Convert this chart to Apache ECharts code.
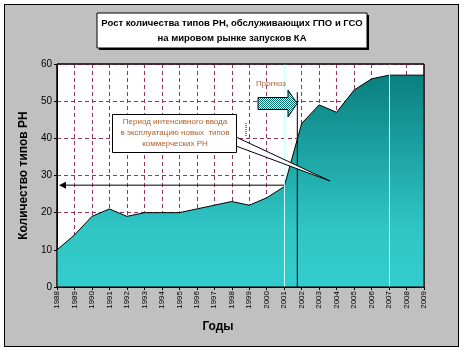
<!DOCTYPE html>
<html>
<head>
<meta charset="utf-8">
<script src="https://cdn.jsdelivr.net/npm/echarts@6/dist/echarts.min.js"></script>
<style>
  html, body { margin: 0; padding: 0; background: #fff; }
  #wrap { position: relative; width: 464px; height: 352px; }
  #frame { position: absolute; left: 4px; top: 4px; width: 453px; height: 341px; background: #c0c0c0; border: 1px solid #000; }
  #chart { position: absolute; left: 0; top: 0; width: 464px; height: 352px; }
</style>
</head>
<body>
<div id="wrap"><div id="frame"></div><div id="chart"></div></div>
<script>
const years = ['1988', '1989', '1990', '1991', '1992', '1993', '1994', '1995', '1996', '1997', '1998',
  '1999', '2000', '2001', '2002', '2003', '2004', '2005', '2006', '2007', '2008', '2009']
const rnTypes = [10, 14, 19, 21, 19, 20, 20, 20, 21, 22, 23, 22, 24, 27, 44, 49, 47, 53, 56, 57, 57, 57]
const periodMarks = ['2001', '2007']
const font = 'Arial, "Liberation Sans", sans-serif'

const el = document.getElementById('chart')
const chart = echarts.init(el)

// checkered fill for the "forecast" arrow
const pat = document.createElement('canvas')
pat.width = 2; pat.height = 2
const pc = pat.getContext('2d')
pc.fillStyle = '#fff'; pc.fillRect(0, 0, 2, 2)
pc.fillStyle = '#007373'; pc.fillRect(0, 0, 1, 1); pc.fillRect(1, 1, 1, 1)

chart.setOption({
  backgroundColor: 'transparent',
  animation: false,
  grid: { left: 57, right: 40, top: 64, bottom: 65, show: true, backgroundColor: '#fff', borderColor: '#000', borderWidth: 1 },
  xAxis: {
    type: 'category', data: years, boundaryGap: false,
    axisLine: { lineStyle: { color: '#000' } },
    axisTick: { show: true, length: 3, interval: 0, lineStyle: { color: '#000' } },
    axisLabel: { rotate: 90, interval: 0, fontSize: 8, color: '#000', fontFamily: font, margin: 4 },
    splitLine: { show: true, interval: 0, lineStyle: { color: '#993366', type: [4, 3], width: 1 } }
  },
  yAxis: {
    type: 'value', min: 0, max: 60, interval: 10,
    axisLine: { show: true, lineStyle: { color: '#000' } },
    axisTick: { show: true, length: 3, lineStyle: { color: '#000' } },
    axisLabel: { fontSize: 10, color: '#000', fontFamily: font, margin: 5 },
    splitLine: { show: true, lineStyle: { color: '#993366', type: [4, 3], width: 1 } },
    name: 'Количество типов РН', nameLocation: 'middle', nameGap: 23,
    nameTextStyle: { fontSize: 12, fontWeight: 'bold', color: '#000', fontFamily: font }
  },
  series: [{
    type: 'line', data: rnTypes, symbol: 'none',
    lineStyle: { color: '#000', width: 1 },
    areaStyle: {
      opacity: 1,
      color: new echarts.graphic.LinearGradient(0, 0, 0, 1, [
        { offset: 0, color: '#0a7f7f' }, { offset: 0.72, color: '#30c5c5' }, { offset: 1, color: '#33cccc' }
      ])
    },
    markLine: {
      silent: true, symbol: 'none', label: { show: false },
      lineStyle: { color: '#ccffff', type: 'solid', width: 1 },
      data: periodMarks.map(y => ({ xAxis: y }))
    }
  }]
})

const px = (i, v) => chart.convertToPixel({ gridIndex: 0 }, [i, v])
const x2001 = px(13, 0)[0], x2002 = px(14, 0)[0]
const xBlack = x2001 + (x2002 - x2001) * 0.75
const yTop = px(0, 52.4)[1], yBase = px(0, 0)[1]
const yArrow = px(0, 27.4)[1], xAxisLeft = px(0, 0)[0]
const xRight = px(years.length - 1, 0)[0], yMax = px(0, 60)[1]

chart.setOption({
  graphic: [
    // plot border on top of the split lines
    { type: 'rect', z: 60, silent: true, shape: { x: xAxisLeft, y: yMax, width: xRight - xAxisLeft, height: yBase - yMax }, style: { fill: null, stroke: '#000', lineWidth: 1 } },
    // title box with shadow
    { type: 'rect', shape: { x: 99, y: 15, width: 270, height: 35 }, style: { fill: '#000' } },
    { type: 'rect', shape: { x: 97, y: 13, width: 270, height: 35 }, style: { fill: '#fff', stroke: '#000', lineWidth: 1 } },
    { type: 'text', x: 232, y: 23, style: { text: 'Рост количества типов РН, обслуживающих ГПО и ГСО', font: 'bold 9.5px ' + font, fill: '#000', align: 'center', verticalAlign: 'middle' } },
    { type: 'text', x: 232, y: 38, style: { text: 'на мировом рынке запусков КА', font: 'bold 9.5px ' + font, fill: '#000', align: 'center', verticalAlign: 'middle' } },
    // axis title
    { type: 'text', x: 218, y: 327, style: { text: 'Годы', font: 'bold 12px ' + font, fill: '#000', align: 'center', verticalAlign: 'middle' } },
    // black forecast boundary line
    { type: 'line', z: 50, shape: { x1: xBlack, y1: yTop, x2: xBlack, y2: yBase }, style: { stroke: '#000', lineWidth: 1 } },
    // arrow to the y axis
    { type: 'line', z: 50, shape: { x1: x2001, y1: yArrow, x2: xAxisLeft + 4, y2: yArrow }, style: { stroke: '#000', lineWidth: 1 } },
    { type: 'polygon', z: 50, shape: { points: [[xAxisLeft + 2, yArrow], [xAxisLeft + 9, yArrow - 3.5], [xAxisLeft + 9, yArrow + 3.5]] }, style: { fill: '#000' } },
    // callout
    { type: 'polygon', z: 50, shape: { points: [[236, 137], [330, 181], [236, 146]] }, style: { fill: '#fff', stroke: '#000', lineWidth: 1 } },
    { type: 'rect', z: 51, shape: { x: 112.5, y: 114.5, width: 124, height: 38 }, style: { fill: '#fff', stroke: '#000', lineWidth: 1 } },
    { type: 'text', z: 52, x: 175, y: 133, style: { text: 'Период интенсивного ввода\nв эксплуатацию новых  типов\nкоммерческих РН', font: '8px ' + font, fill: '#b0602a', align: 'center', verticalAlign: 'middle', lineHeight: 11 } },
    { type: 'line', z: 50, shape: { x1: 246, y1: 123, x2: 246, y2: 137 }, style: { stroke: '#000', lineWidth: 1, lineDash: [1, 1] } },
    // forecast arrow
    { type: 'text', z: 52, x: 271, y: 84, style: { text: 'Прогноз', font: '8px ' + font, fill: '#b0602a', align: 'center', verticalAlign: 'middle' } },
    { type: 'polygon', z: 52, shape: { points: [[258, 97.5], [288, 97.5], [288, 90], [297, 103.5], [288, 117], [288, 109.5], [258, 109.5]] },
      style: { fill: { image: pat, repeat: 'repeat' }, stroke: '#000', lineWidth: 1 } }
  ]
})
</script>
</body>
</html>
